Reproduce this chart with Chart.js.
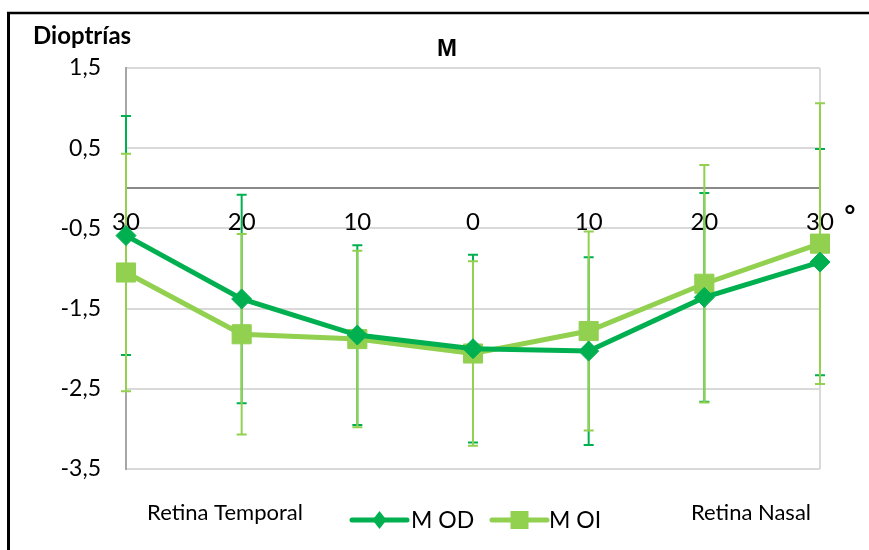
<!DOCTYPE html>
<html>
<head>
<meta charset="utf-8">
<script src="https://cdn.jsdelivr.net/npm/chart.js@4/dist/chart.umd.min.js"></script>
<style>
  html, body { margin: 0; padding: 0; background: #fff; }
  canvas { display: block; }
</style>
</head>
<body>
<canvas id="chartM" width="869" height="550"></canvas>
<script>
// eccentricity (degrees) along the horizontal meridian
const categories = ["30", "20", "10", "0", "10", "20", "30"];
const odValues = [-0.59, -1.38, -1.83, -2.00, -2.03, -1.36, -0.92];
const oiValues = [-1.05, -1.82, -1.88, -2.06, -1.78, -1.19, -0.69];
// standard deviations shown as error bars
const odErrors = [1.49, 1.30, 1.12, 1.17, 1.17, 1.30, 1.41];
const oiErrors = [1.48, 1.25, 1.10, 1.15, 1.24, 1.48, 1.75];
const yTicks = [1.5, 0.5, -0.5, -1.5, -2.5, -3.5];

const DARK = "#00B050";
const LIGHT = "#92D050";
const FONT = "Lato, 'Open Sans', sans-serif";

const fmt = (v) => v.toFixed(1).replace(".", ",");

// vertical error bars with caps, drawn behind the lines
const errorBars = {
  id: "errorBars",
  beforeDatasetsDraw(chart) {
    const { ctx, scales: { x, y } } = chart;
    chart.data.datasets.forEach((ds) => {
      const errs = ds.errors;
      ctx.save();
      ctx.strokeStyle = ds.borderColor;
      ctx.lineWidth = 2;
      ds.data.forEach((v, j) => {
        const px = x.getPixelForValue(j);
        const top = y.getPixelForValue(v + errs[j]);
        const bot = y.getPixelForValue(v - errs[j]);
        ctx.beginPath();
        ctx.moveTo(px, top);
        ctx.lineTo(px, bot);
        ctx.moveTo(px - 5, top);
        ctx.lineTo(px + 5, top);
        ctx.moveTo(px - 5, bot);
        ctx.lineTo(px + 5, bot);
        ctx.stroke();
      });
      ctx.restore();
    });
  }
};

// frame, titles, side captions and legend
const decorations = {
  id: "decorations",
  afterDraw(chart) {
    const ctx = chart.ctx;
    ctx.save();

    ctx.strokeStyle = "#000";
    ctx.lineWidth = 2.5;
    ctx.beginPath();
    ctx.moveTo(7, 13);
    ctx.lineTo(869, 13);
    ctx.stroke();
    ctx.lineWidth = 3;
    ctx.beginPath();
    ctx.moveTo(8.5, 12);
    ctx.lineTo(8.5, 550);
    ctx.stroke();

    ctx.fillStyle = "#000";
    ctx.textBaseline = "middle";

    ctx.font = "bold 24px " + FONT;
    ctx.textAlign = "left";
    ctx.fillText("Dioptrías", 33, 36);

    ctx.font = "bold 24px 'Liberation Sans', Arial, sans-serif";
    ctx.textAlign = "center";
    ctx.fillText("M", 447, 49);

    ctx.font = "bold 26px " + FONT;
    ctx.fillText("°", 850, 217);

    ctx.font = "22px " + FONT;
    ctx.fillText("Retina Temporal", 225, 513);
    ctx.fillText("Retina Nasal", 751, 513);

    // legend: line with marker, then label
    const items = [
      { ds: chart.data.datasets[0], x0: 352, x1: 407, tx: 411 },
      { ds: chart.data.datasets[1], x0: 492, x1: 547, tx: 549 }
    ];
    const ly = 520;
    items.forEach((it) => {
      const c = it.ds.borderColor;
      ctx.strokeStyle = c;
      ctx.fillStyle = c;
      ctx.lineWidth = 5;
      ctx.lineCap = "round";
      ctx.beginPath();
      ctx.moveTo(it.x0, ly);
      ctx.lineTo(it.x1, ly);
      ctx.stroke();
      const cx = (it.x0 + it.x1) / 2;
      ctx.beginPath();
      if (it.ds.pointStyle === "rectRot") {
        ctx.moveTo(cx, ly - 9);
        ctx.lineTo(cx + 7, ly);
        ctx.lineTo(cx, ly + 9);
        ctx.lineTo(cx - 7, ly);
        ctx.closePath();
      } else {
        ctx.rect(cx - 9, ly - 9, 18, 18);
      }
      ctx.fill();
      ctx.fillStyle = "#000";
      ctx.font = "23px " + FONT;
      ctx.textAlign = "left";
      ctx.fillText(it.ds.label, it.tx, ly + 1);
    });

    ctx.restore();
  }
};

new Chart(document.getElementById("chartM"), {
  type: "line",
  data: {
    labels: categories,
    datasets: [
      {
        label: "M OD",
        data: odValues,
        errors: odErrors,
        borderColor: DARK,
        backgroundColor: DARK,
        borderWidth: 5,
        pointStyle: "rectRot",
        pointRadius: 10,
        pointHoverRadius: 10,
        pointBorderWidth: 1,
        tension: 0
      },
      {
        label: "M OI",
        data: oiValues,
        errors: oiErrors,
        borderColor: LIGHT,
        backgroundColor: LIGHT,
        borderWidth: 5,
        pointStyle: "rect",
        pointRadius: 13.5,
        pointHoverRadius: 13.5,
        pointBorderWidth: 1,
        tension: 0
      }
    ]
  },
  options: {
    responsive: false,
    animation: false,
    layout: { padding: { top: 68, bottom: 81, left: 0, right: 49 } },
    plugins: {
      legend: { display: false },
      title: { display: false },
      tooltip: { enabled: false }
    },
    scales: {
      x: {
        type: "category",
        position: { y: 0 },
        offset: false,
        afterFit(scale) { scale.height = 0; },
        grid: {
          drawTicks: false,
          lineWidth: 2,
          color: (c) => (c.index === categories.length - 1 ? "#d9d9d9" : "rgba(0,0,0,0)")
        },
        border: { color: "#898989", width: 2 },
        ticks: {
          color: "#000",
          padding: 20,
          maxRotation: 0,
          autoSkip: false,
          font: { family: FONT, size: 24 }
        }
      },
      y: {
        min: -3.5,
        max: 1.5,
        afterFit(scale) { scale.width = 126; },
        afterBuildTicks(scale) {
          scale.ticks = yTicks.map((v) => ({ value: v }));
        },
        grid: { drawTicks: false, color: "#d9d9d9", lineWidth: 2 },
        border: { color: "#a6a6a6", width: 2 },
        ticks: {
          color: "#000",
          padding: 25,
          font: { family: FONT, size: 23 },
          callback: (v) => fmt(v)
        }
      }
    }
  },
  plugins: [errorBars, decorations]
});
</script>
</body>
</html>
